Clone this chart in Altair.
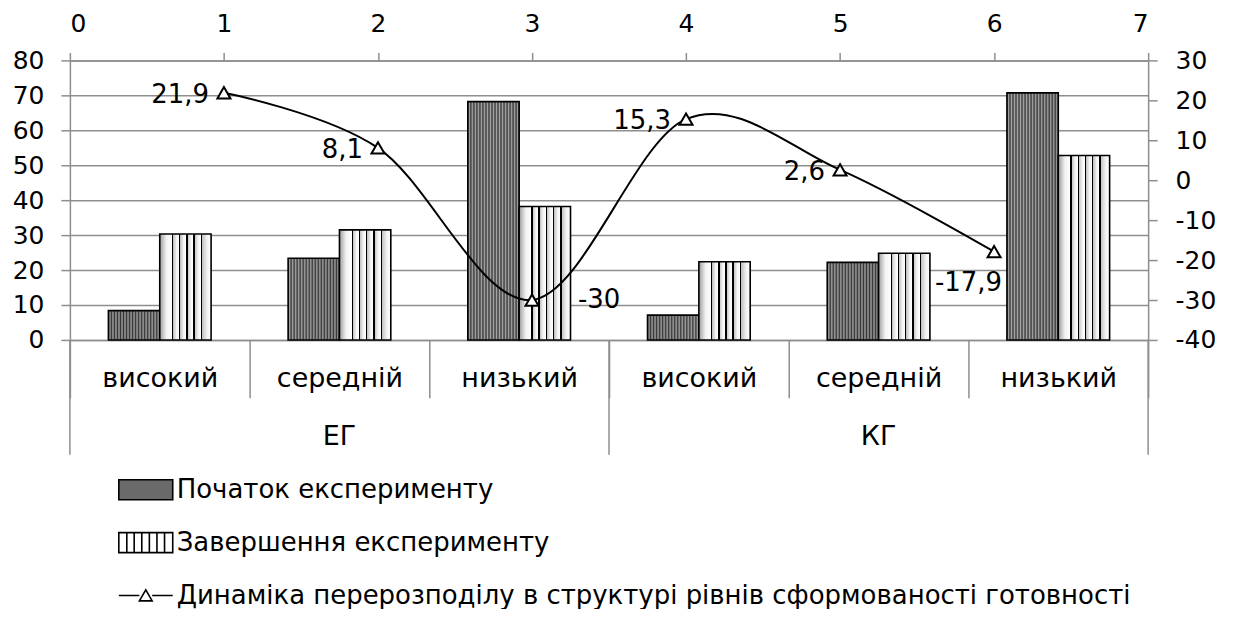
import altair as alt
import pandas as pd

# ---------------- data ----------------
groups = ["ЕГ", "ЕГ", "ЕГ", "КГ", "КГ", "КГ"]
levels = ["високий", "середній", "низький", "високий", "середній", "низький"]
start_vals = [8.4, 23.4, 68.2, 7.1, 22.2, 70.7]
end_vals = [30.3, 31.5, 38.2, 22.4, 24.8, 52.8]
line_x = [1, 2, 3, 4, 5, 6]
line_vals = [21.9, 8.1, -30.0, 15.3, 2.6, -17.9]
left_ticks = [0, 10, 20, 30, 40, 50, 60, 70, 80]
right_ticks = [-40, -30, -20, -10, 0, 10, 20, 30]
top_ticks = [0, 1, 2, 3, 4, 5, 6, 7]
series_names = [
    "Початок експерименту",
    "Завершення експерименту",
    "Динаміка перерозподілу в структурі рівнів сформованості готовності",
]

S0, S1, S2 = series_names
keys = [f"{g}|{l}" for g, l in zip(groups, levels)]
labels = [f"{v:g}".replace(".", ",") for v in line_vals]

bars_df = pd.DataFrame({
    "key": keys * 2,
    "series": [S0] * 6 + [S1] * 6,
    "value": start_vals + end_vals,
})
line_df = pd.DataFrame({"x": line_x, "v": line_vals, "label": labels})
sep_start_df = pd.DataFrame({"key": [keys[0], keys[3]]})
sep_end_df = pd.DataFrame({"key": [keys[5]]})
grp_df = pd.DataFrame({"key": [keys[1], keys[4]], "label": ["ЕГ", "КГ"]})
legend_df = pd.DataFrame({"series": series_names})

# ---------------- styles ----------------
FONT = "DejaVu Sans"
FS = 27      # category words
FSG = 26     # legend words
FSN = 25     # axis numbers
FSL = 26     # data labels
GRID = "#8e8e8e"
MINUS_FIX = "replace(datum.label, '\u2212', '-')"

# striped fill (vertical lines)
stripe_lines = [0.235, 0.375, 0.515, 0.655, 0.80]
lw = 0.028
st = []
prev = 0.0
for i, l in enumerate(stripe_lines):
    st += [(prev, "#9c9c9c" if i == 0 else "#c2c2c2"),
           (prev + (l - prev) * 0.55, "#f2f2f2"),
           (l, "#ffffff"), (l, "#000000"), (l + lw, "#000000")]
    prev = l + lw
st += [(prev, "#c2c2c2"), (prev + (1 - prev) * 0.55, "#f2f2f2"), (1.0, "#ffffff")]
stripe_grad = alt.LinearGradient(
    gradient="linear", x1=0, x2=1, y1=0, y2=0,
    stops=[alt.GradientStop(color=c, offset=o) for o, c in st],
)
dst = []
n = 34
for k in range(n + 1):
    dst.append((k / n, "#363636" if k % 2 == 0 else "#a4a4a4"))
dot_grad = alt.LinearGradient(
    gradient="linear", x1=0, x2=1, y1=0, y2=0,
    stops=[alt.GradientStop(color=c, offset=o) for o, c in dst],
)

xband = alt.Scale(domain=keys, paddingInner=0, paddingOuter=0)
xoff = alt.Scale(domain=[S0, S1], paddingInner=0, paddingOuter=0.75)

x_axis = alt.Axis(
    title=None, labelExpr="split(datum.label, '|')[1]", tickBand="extent",
    tickSize=58, tickColor=GRID, tickWidth=1.5, domainColor=GRID, domainWidth=1.5,
    labelPadding=-32, labelFont=FONT, labelFontSize=FS, labelColor="black",
    labelAngle=0, grid=False,
)
y_axis = alt.Axis(
    title=None, values=left_ticks, grid=True, gridColor=GRID, gridWidth=1.5,
    tickSize=9, tickColor=GRID, tickWidth=1.5, domainColor=GRID, domainWidth=1.5,
    labelPadding=17, labelFont=FONT, labelFontSize=FSN, labelColor="black",
)

base_bar = alt.Chart(bars_df).encode(
    x=alt.X("key:N", scale=xband, axis=x_axis),
    xOffset=alt.XOffset("series:N", scale=xoff),
    y=alt.Y("value:Q", scale=alt.Scale(domain=[0, 80], nice=False), axis=y_axis),
)
bar_start = base_bar.transform_filter(alt.datum.series == S0).mark_bar(
    fill=dot_grad, stroke="black", strokeWidth=1.6)
bar_end = base_bar.transform_filter(alt.datum.series == S1).mark_bar(
    fill=stripe_grad, stroke="black", strokeWidth=1.6)

sep_a = alt.Chart(sep_start_df).mark_rule(color=GRID, strokeWidth=1.5).encode(
    x=alt.X("key:N", scale=xband, axis=x_axis, bandPosition=0),
    y=alt.value(280), y2=alt.value(395),
)
sep_b = alt.Chart(sep_end_df).mark_rule(color=GRID, strokeWidth=1.5).encode(
    x=alt.X("key:N", scale=xband, axis=x_axis, bandPosition=1),
    y=alt.value(280), y2=alt.value(395),
)
grp_text = alt.Chart(grp_df).mark_text(
    font=FONT, fontSize=FS, color="black", baseline="middle").encode(
    x=alt.X("key:N", scale=xband, axis=x_axis),
    y=alt.value(377),
    text="label:N",
)

bar_group = alt.layer(bar_start, bar_end, sep_a, sep_b, grp_text)

top_axis = alt.Axis(
    orient="top", values=top_ticks, title=None, grid=False, tickSize=8,
    tickColor=GRID, tickWidth=1.5, domainColor=GRID, domainWidth=1.5,
    labelPadding=16, labelFont=FONT, labelFontSize=FSN, labelColor="black",
)
right_axis = alt.Axis(
    orient="right", values=right_ticks, title=None, grid=False, tickSize=9,
    tickColor=GRID, tickWidth=1.5, domainColor=GRID, domainWidth=1.5,
    labelPadding=18, labelFont=FONT, labelFontSize=FSN, labelColor="black",
    labelExpr=MINUS_FIX,
)
lbase = alt.Chart(line_df).encode(
    x=alt.X("x:Q", scale=alt.Scale(domain=[0, 7], nice=False), axis=top_axis),
    y=alt.Y("v:Q", scale=alt.Scale(domain=[-40, 30], nice=False), axis=right_axis),
)
line = lbase.mark_line(interpolate="cardinal", color="black", strokeWidth=2)
pts = lbase.mark_point(shape="triangle-up", size=170, filled=True, fill="white",
                       stroke="black", strokeWidth=2, opacity=1)
lab_a = lbase.transform_filter(
    alt.FieldOneOfPredicate(field="label", oneOf=[labels[0], labels[1], labels[3], labels[4]])
).mark_text(align="right", dx=-15, dy=2, font=FONT, fontSize=FSL, color="black").encode(text="label:N")
lab_b = lbase.transform_filter(alt.datum.label == labels[2]).mark_text(
    align="left", dx=46, dy=0, font=FONT, fontSize=FSL, color="black").encode(text="label:N")
lab_c = lbase.transform_filter(alt.datum.label == labels[5]).mark_text(
    align="right", dx=8, dy=31, font=FONT, fontSize=FSL, color="black").encode(text="label:N")

p_rect = "M-1.35,-0.5H1.35V0.5H-1.35Z"
p_stripe = ("M-1.35,-0.5H1.35V0.5H-1.35Z M-0.95,-0.5V0.5 M-0.58,-0.5V0.5 M-0.2,-0.5V0.5 "
            "M0.18,-0.5V0.5 M0.56,-0.5V0.5 M0.94,-0.5V0.5")
p_line = ("M-1.35,0H-0.32M0.32,0H1.35M-0.32,0.27L0,-0.28L0.32,0.27Z"
          "M-1.35,-0.5h0.001M-1.35,0.5h0.001")

leg = alt.Legend(
    title=None, orient="none", legendX=55, legendY=409, direction="vertical",
    symbolSize=1600, symbolStrokeWidth=1.6, symbolStrokeColor="black", symbolOpacity=1,
    labelFont=FONT, labelFontSize=FSG, labelColor="black", labelOffset=10,
    labelLimit=1200, rowPadding=18, padding=0,
)
legend_layer = alt.Chart(legend_df).mark_point(
    filled=True, strokeWidth=1.6, opacity=0).encode(
    fill=alt.Fill("series:N", scale=alt.Scale(domain=series_names,
                  range=["#6a6a6a", "white", "white"]), legend=leg),
    stroke=alt.Stroke("series:N", scale=alt.Scale(domain=series_names,
                      range=["black", "black", "black"]), legend=leg),
    shape=alt.Shape("series:N", scale=alt.Scale(domain=series_names,
                    range=[p_rect, p_stripe, p_line]), legend=leg),
)

line_group = alt.layer(line, pts, lab_a, lab_b, lab_c, legend_layer)

chart = alt.layer(bar_group, line_group).resolve_scale(
    x="independent", y="independent"
).properties(
    width=1080, height=280,
    padding={"left": 62, "top": 52, "right": 80, "bottom": 269},
    autosize=alt.AutoSizeParams(type="none"),
    background="white",
).configure_view(stroke=None)

chart.save("out.html", embed_options={"renderer": "svg", "actions": False})
